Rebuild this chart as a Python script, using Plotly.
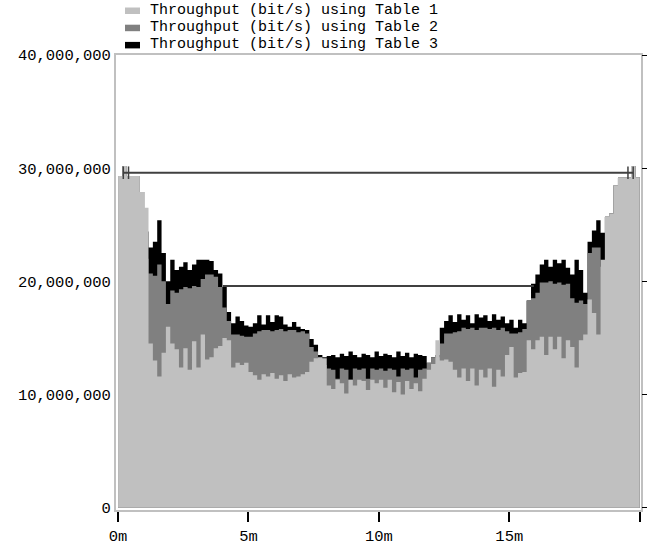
import plotly.graph_objects as go

# ---- data (throughput in Mbit/s, one value per 10-second sample) ----
SAMPLE_MIN = 1 / 6  # 10 s in minutes
series_names = [
    "Throughput (bit/s) using Table 1",
    "Throughput (bit/s) using Table 2",
    "Throughput (bit/s) using Table 3",
]
table1 = [
    29.3, 30.2, 29.3, 29.3, 29.3, 27.9, 26.5, 14.5, 13.0, 11.6,
    13.7, 16.0, 14.5, 14.0, 12.4, 14.1, 12.2, 14.7, 12.4, 15.3,
    13.1, 13.3, 14.1, 14.3, 15.0, 14.8, 12.4, 12.8, 12.6, 12.8,
    12.0, 11.7, 11.3, 11.8, 11.6, 11.9, 11.4, 11.7, 11.2, 11.8,
    11.5, 11.6, 11.8, 12.0, 12.9, 13.2, 13.3, 13.2, 10.8, 10.5,
    11.3, 11.0, 10.1, 11.3, 10.8, 11.3, 11.2, 10.4, 11.3, 11.0,
    11.3, 10.6, 11.3, 10.2, 11.1, 10.0, 11.2, 10.5, 11.0, 10.3,
    11.4, 12.2, 12.7, 14.8, 13.0, 13.1, 12.9, 12.2, 11.5, 12.3,
    11.2, 12.3, 10.8, 12.2, 11.5, 12.3, 10.7, 12.2, 11.6, 13.5,
    14.2, 11.5, 11.9, 12.0, 14.8, 14.0, 14.8, 15.1, 13.5, 15.1,
    14.0, 15.1, 13.2, 14.8, 14.2, 12.4, 14.8, 15.3, 18.4, 17.2,
    15.3, 21.9, 25.7, 26.0, 28.5, 29.2, 29.2, 29.2, 30.2, 29.2,
]
table2 = [
    29.3, 30.2, 29.3, 29.3, 29.3, 27.9, 22.0, 20.7, 20.5, 21.5,
    20.0, 18.0, 19.2, 19.0, 19.3, 19.5, 19.4, 19.6, 19.5, 20.2,
    20.6, 20.6, 20.4, 19.5, 17.7, 16.5, 15.3, 15.3, 15.2, 15.1,
    15.1, 15.4, 15.6, 15.7, 15.7, 15.6, 15.7, 15.8, 15.6, 15.7,
    15.7, 15.5, 15.6, 15.4, 14.2, 13.8, 13.0, 12.6, 12.3, 12.2,
    11.4, 12.3, 12.2, 11.3, 12.3, 12.2, 12.3, 11.4, 12.3, 12.2,
    12.3, 12.1, 12.3, 12.2, 11.6, 12.3, 12.2, 12.3, 11.5, 12.2,
    12.3, 12.8, 13.3, 13.3, 14.5, 15.4, 15.4, 15.5, 15.6, 15.9,
    15.8, 15.9, 15.7, 15.9, 15.9, 15.8, 15.9, 15.7, 15.9, 15.6,
    15.4, 15.4, 15.5, 15.8, 18.3, 18.5, 19.0, 19.9, 19.9, 20.0,
    19.8, 19.9, 19.7, 19.8, 18.5, 18.1, 18.3, 18.0, 22.5, 23.0,
    23.0, 21.3, 25.7, 26.0, 28.5, 29.2, 29.2, 29.2, 30.2, 29.2,
]
table3 = [
    29.3, 30.2, 29.3, 29.3, 29.3, 27.9, 24.4, 23.0, 23.5, 25.4,
    22.5, 20.0, 21.9, 21.0, 21.3, 21.7, 21.0, 21.5, 21.9, 21.9,
    21.9, 21.8, 21.0, 20.7, 19.5, 17.3, 16.3, 16.9, 16.5, 16.1,
    16.0, 16.3, 17.0, 16.2, 17.0, 16.4, 17.0, 16.9, 16.2, 16.0,
    16.4, 16.0, 15.8, 15.7, 14.9, 14.4, 13.5, 13.3, 13.4, 13.5,
    13.3, 13.6, 13.4, 13.8, 13.5, 13.3, 13.6, 13.5, 13.3, 13.8,
    13.4, 13.6, 13.5, 13.3, 13.8, 13.4, 13.7, 13.3, 13.6, 13.5,
    13.4, 12.8, 13.3, 13.5, 15.9, 16.5, 17.0, 16.4, 17.1, 16.6,
    17.0, 16.3, 17.1, 16.8, 17.0, 16.5, 17.1, 16.6, 16.9, 16.3,
    16.6, 15.9, 16.6, 16.3, 18.3, 19.8, 20.6, 21.5, 21.9, 21.3,
    21.9, 21.6, 21.9, 21.2, 20.6, 21.9, 21.0, 19.0, 23.5, 24.5,
    25.4, 24.3, 25.7, 26.0, 28.5, 29.2, 29.2, 29.2, 30.2, 29.2,
]
# reference levels (Mbit/s) and their time spans (minutes)
upper_level_t = [0.2, 0.4, 19.55, 19.75]
upper_level_v = [29.6, 29.6, 29.6, 29.6]
lower_level_t = [4.02, 15.94]
lower_level_v = [19.6, 19.6]

x_ticks = [0, 5, 10, 15, 20]
x_tick_text = ["0m", "5m", "10m", "15m", "20m"]
y_ticks = [0, 10_000_000, 20_000_000, 30_000_000, 40_000_000]

colors = ["#c0c0c0", "#808080", "#000000"]
FONT = "Courier New, Liberation Mono, monospace"

# ---- layout geometry (pixels of the 653x547 page) ----
W, H = 653, 547
ML, MT = 116, 55
PLOT_RIGHT, PLOT_BOTTOM = 641, 510
MR, MB = W - PLOT_RIGHT, H - PLOT_BOTTOM
PW, PH = W - ML - MR, H - MT - MB


def px_x(px):
    return (px - ML) / PW


def px_y(py):
    return (PLOT_BOTTOM - py) / PH


times = [i * SAMPLE_MIN for i in range(len(table1))] + [20.0]


def step(vals):
    return [v * 1e6 for v in vals] + [vals[-1] * 1e6]


fig = go.Figure()
# draw Table 3 first (back), Table 1 last (front)
for name, vals, col in reversed(list(zip(series_names, [table1, table2, table3], colors))):
    fig.add_trace(go.Scatter(
        x=times, y=step(vals), name=name, mode="lines",
        line=dict(shape="hv", width=0, color=col),
        fill="tozeroy", fillcolor=col, showlegend=False,
    ))

fig.add_trace(go.Scatter(
    x=upper_level_t, y=[v * 1e6 for v in upper_level_v], mode="lines+markers",
    line=dict(color="#404040", width=2),
    marker=dict(symbol="line-ns-open", size=9, line=dict(color="#404040", width=1.5)),
    showlegend=False, hoverinfo="skip",
))
fig.add_trace(go.Scatter(
    x=lower_level_t, y=[v * 1e6 for v in lower_level_v], mode="lines",
    line=dict(color="#404040", width=2),
    showlegend=False, hoverinfo="skip",
))

# right-side tick marks only
fig.add_trace(go.Scatter(x=[None], y=[None], yaxis="y2", showlegend=False))

# ---- legend drawn above the plot (compact rows as in the original) ----
shapes, annotations = [], []
for k, (name, col) in enumerate(zip(series_names, colors)):
    row_y = 10.5 + 17.2 * k
    shapes.append(dict(
        type="rect", xref="paper", yref="paper",
        x0=px_x(125), x1=px_x(140), y0=px_y(row_y + 3.5), y1=px_y(row_y - 3),
        fillcolor=col, line=dict(width=0), layer="above",
    ))
    annotations.append(dict(
        text=name, xref="paper", yref="paper", x=px_x(148), y=px_y(row_y),
        xanchor="left", yanchor="middle", showarrow=False,
        font=dict(family=FONT, size=15, color="black"),
    ))

fig.update_layout(
    width=W, height=H,
    margin=dict(l=ML, r=MR, t=MT, b=MB, autoexpand=False),
    paper_bgcolor="white", plot_bgcolor="white",
    font=dict(family=FONT, size=15.5, color="black"),
    showlegend=False,
    shapes=shapes, annotations=annotations,
    xaxis=dict(
        range=[-0.08, 20.05], tickvals=x_ticks, ticktext=x_tick_text,
        ticks="outside", ticklen=10, tickwidth=2, tickcolor="black",
        showgrid=False, zeroline=False,
        showline=True, linecolor="#c0c0c0", linewidth=2, mirror=True,
    ),
    yaxis=dict(
        range=[-200_000, 40_000_000], tickvals=y_ticks, tickformat=",d",
        ticks="", showgrid=False, zeroline=False,
        showline=True, linecolor="#c0c0c0", linewidth=2, mirror=True,
    ),
    yaxis2=dict(
        overlaying="y", side="right", range=[-200_000, 40_000_000],
        tickvals=y_ticks, showticklabels=False, ticks="outside", ticklen=5,
        tickcolor="black", tickwidth=1, showgrid=False, zeroline=False,
        showline=False,
    ),
)

# place the figure at the page's top-left corner (no default body margin)
fig.write_html(
    "out.html",
    config={"displayModeBar": False},
    post_script="document.body.style.margin='0';document.body.style.overflow='hidden';",
)
